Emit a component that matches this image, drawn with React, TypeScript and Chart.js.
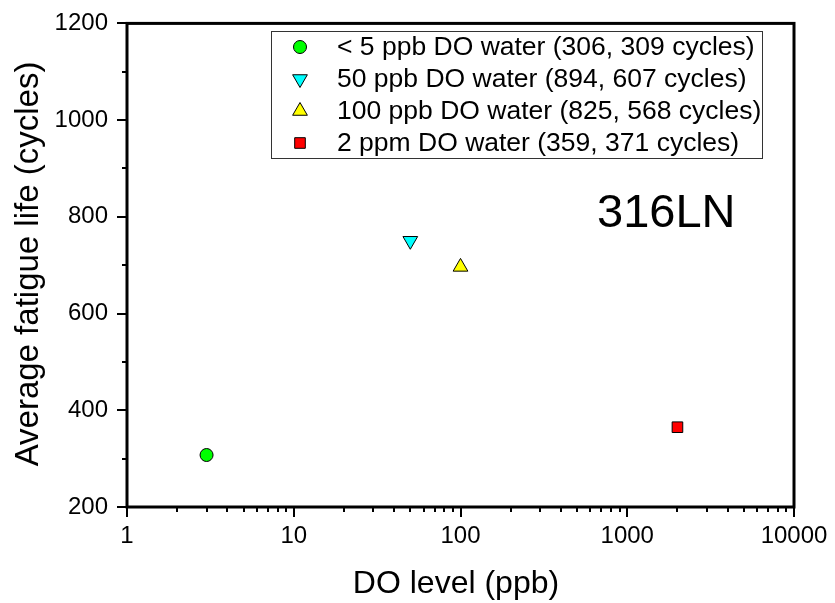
import React, { useEffect, useRef } from 'react';
import { Chart, registerables } from 'chart.js';
import { drawPoint } from 'chart.js/helpers';

Chart.register(...registerables);

const seriesLabels = [
  '< 5 ppb DO water (306, 309 cycles)',
  '50 ppb DO water (894, 607 cycles)',
  '100 ppb DO water (825, 568 cycles)',
  '2 ppm DO water (359, 371 cycles)',
];
const doLevels = [3, 50, 100, 2000];
const avgLife = [307.5, 750.5, 696.5, 365];
const markerStyles = ['circle', 'triangle', 'triangle', 'rect'];
const markerRotations = [0, 180, 0, 0];
const markerColors = ['#00ff00', '#00ffff', '#ffff00', '#ff0000'];
const markerRadii = [6.5, 8.5, 8.5, 7.5];
const xTickValues = [1, 10, 100, 1000, 10000];
const yTickValues = [200, 400, 600, 800, 1000, 1200];
const yMinorValues = [300, 500, 700, 900, 1100];
const xTitle = 'DO level (ppb)';
const yTitle = 'Average fatigue life (cycles)';
const annotationText = '316LN';

const FONT = '"Liberation Sans", Arial, sans-serif';

const decorPlugin = {
  id: 'decor',
  afterDraw(chart: any) {
    const { ctx, chartArea: a, scales } = chart;
    const x = scales.x;
    const y = scales.y;
    ctx.save();
    // frame
    ctx.strokeStyle = '#000';
    ctx.lineWidth = 3;
    ctx.strokeRect(a.left, a.top, a.right - a.left, a.bottom - a.top);
    // minor ticks
    ctx.lineWidth = 2;
    ctx.beginPath();
    for (let d = 1; d < 10000; d *= 10) {
      for (let m = 2; m <= 9; m++) {
        const px = Math.round(x.getPixelForValue(d * m));
        ctx.moveTo(px, a.bottom);
        ctx.lineTo(px, a.bottom + 5);
      }
    }
    yMinorValues.forEach((v) => {
      const py = Math.round(y.getPixelForValue(v));
      ctx.moveTo(a.left, py);
      ctx.lineTo(a.left - 5, py);
    });
    ctx.stroke();

    // axis titles
    ctx.fillStyle = '#000';
    ctx.font = `32px ${FONT}`;
    ctx.textAlign = 'center';
    ctx.textBaseline = 'alphabetic';
    ctx.fillText(xTitle, 456, 593);
    ctx.save();
    ctx.font = `33px ${FONT}`;
    ctx.translate(38, 264);
    ctx.rotate(-Math.PI / 2);
    ctx.fillText(yTitle, 0, 0);
    ctx.restore();

    // annotation
    ctx.font = `47px ${FONT}`;
    ctx.textAlign = 'left';
    ctx.fillText(annotationText, 597, 227);

    // legend
    ctx.lineWidth = 1;
    ctx.strokeStyle = '#333';
    ctx.strokeRect(271.5, 31.5, 491, 127);
    ctx.font = `26.5px ${FONT}`;
    ctx.textBaseline = 'middle';
    chart.data.datasets.forEach((ds: any, i: number) => {
      const cy = 47 + i * 32;
      ctx.fillStyle = ds.backgroundColor;
      ctx.strokeStyle = '#000';
      ctx.lineWidth = 1;
      drawPoint(ctx, {
        pointStyle: ds.pointStyle,
        rotation: ds.rotation,
        radius: ds.pointRadius,
        borderWidth: 1,
      }, 300, cy);
      ctx.fillStyle = '#000';
      ctx.fillText(ds.label, 337, cy + 1);
    });
    ctx.restore();
  },
};

export default function App() {
  const ref = useRef<HTMLCanvasElement>(null);
  useEffect(() => {
    if (!ref.current) return;
    Chart.defaults.font.family = FONT;
    const chart = new Chart(ref.current, {
      type: 'scatter',
      data: {
        datasets: seriesLabels.map((label, i) => ({
          label,
          data: [{ x: doLevels[i], y: avgLife[i] }],
          pointStyle: markerStyles[i],
          rotation: markerRotations[i],
          backgroundColor: markerColors[i],
          borderColor: '#000',
          borderWidth: 1,
          pointRadius: markerRadii[i],
          pointHoverRadius: markerRadii[i],
        })),
      },
      options: {
        responsive: false,
        animation: false,
        layout: { padding: { left: 0, top: 18, right: 41, bottom: 0 } },
        plugins: { legend: { display: false }, tooltip: { enabled: false } },
        scales: {
          x: {
            type: 'logarithmic',
            min: 1,
            max: 10000,
            afterBuildTicks: (s: any) => {
              s.ticks = xTickValues.map((v) => ({ value: v }));
            },
            afterFit: (s: any) => {
              s.height = 96;
            },
            ticks: {
              color: '#000',
              font: { size: 24 },
              padding: 5,
              maxRotation: 0,
              autoSkip: false,
              callback: (v: any) => String(v),
            },
            grid: {
              display: true,
              drawOnChartArea: false,
              drawTicks: true,
              tickLength: 10,
              color: '#000',
              lineWidth: 2,
            },
            border: { display: false },
          },
          y: {
            type: 'linear',
            min: 200,
            max: 1200,
            afterBuildTicks: (s: any) => {
              s.ticks = yTickValues.map((v) => ({ value: v }));
            },
            afterFit: (s: any) => {
              s.width = 127;
            },
            ticks: {
              color: '#000',
              font: { size: 24 },
              padding: 9,
              autoSkip: false,
              callback: (v: any) => String(v),
            },
            grid: {
              display: true,
              drawOnChartArea: false,
              drawTicks: true,
              tickLength: 10,
              color: '#000',
              lineWidth: 2,
            },
            border: { display: false },
          },
        },
      },
      plugins: [decorPlugin],
    } as any);
    return () => chart.destroy();
  }, []);
  return (
    <div style={{ position: 'fixed', left: 0, top: 0, width: 835, height: 603, background: '#fff' }}>
      <canvas ref={ref} width={835} height={603} />
    </div>
  );
}
